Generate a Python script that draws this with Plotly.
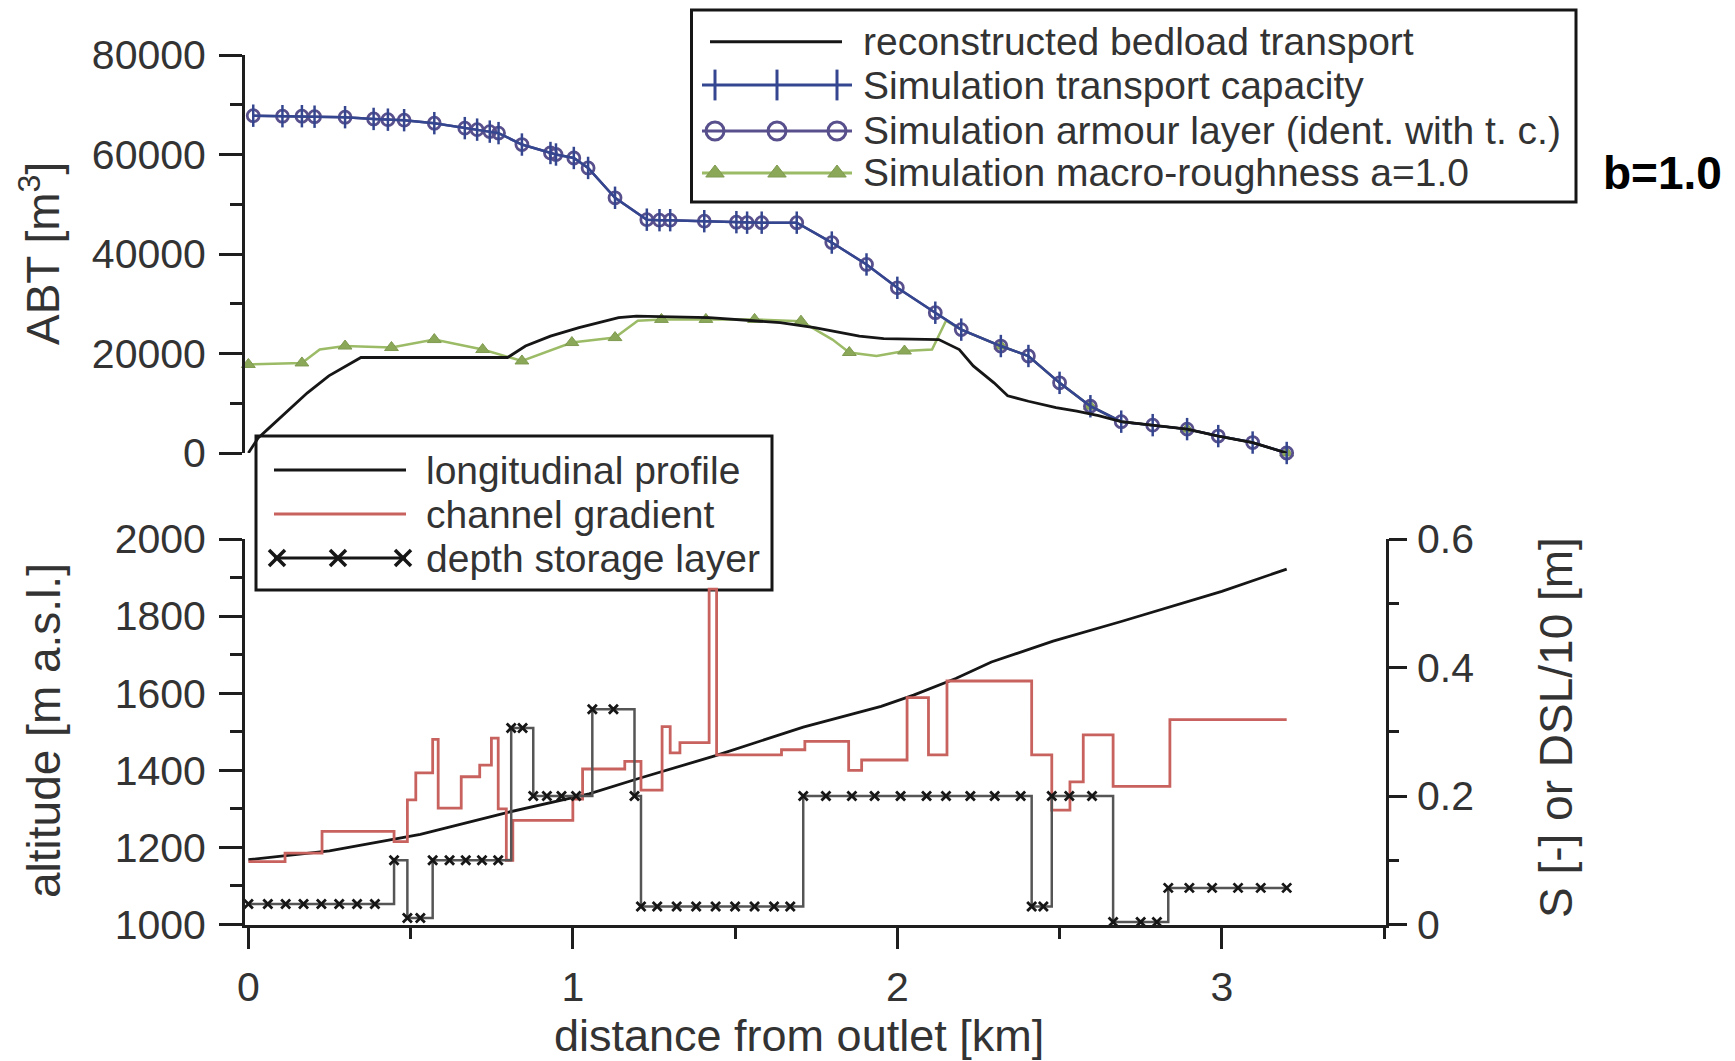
import plotly.graph_objects as go

W, H = 1735, 1061

# ---------------- data ----------------
# upper panel: accumulated bedload transport ABT [m3] vs distance from outlet [km]
km_capacity = [0.015, 0.105, 0.165, 0.204, 0.298, 0.386, 0.430, 0.480, 0.573, 0.667,
               0.705, 0.744, 0.771, 0.843, 0.931, 0.948, 1.003, 1.047, 1.130, 1.228,
               1.267, 1.300, 1.405, 1.504, 1.537, 1.582, 1.690, 1.798, 1.905, 2.000,
               2.117, 2.197, 2.319, 2.404, 2.500, 2.595, 2.690, 2.787, 2.893, 2.989,
               3.095, 3.200]
abt_capacity = [67800, 67700, 67700, 67600, 67500, 67150, 67000, 66900, 66300, 65300,
                65000, 64600, 64300, 62000, 60300, 60000, 59300, 57300, 51300, 46900,
                46800, 46800, 46600, 46400, 46300, 46300, 46300, 42300, 37900, 33200,
                28200, 24800, 21500, 19500, 14100, 9400, 6300, 5600, 4800, 3400,
                2100, 0]

km_roughness = [0.000, 0.165, 0.220, 0.298, 0.441, 0.573, 0.722, 0.843, 0.997, 1.130,
                1.200, 1.273, 1.410, 1.560, 1.703, 1.800, 1.852, 1.936, 2.022, 2.107,
                2.150, 2.197, 2.319, 2.404, 2.500, 2.595, 2.690, 2.787, 2.893, 2.989,
                3.095, 3.200]
abt_roughness = [17800, 18100, 20800, 21500, 21200, 22800, 20800, 18500, 22200, 23200,
                 26600, 26850, 26850, 26850, 26500, 22800, 20200, 19500, 20500, 20800,
                 26600, 24800, 21500, 19500, 14100, 9400, 6300, 5600, 4800, 3400,
                 2100, 0]
# points of the macro-roughness run that carry a symbol
roughness_symbols = [0, 1, 3, 4, 5, 6, 7, 8, 9, 11, 12, 13, 14, 16, 18, 22, 25, 28, 31]

km_bedload = [0.000, 0.030, 0.060, 0.182, 0.248, 0.347, 0.799, 0.854, 0.931, 1.019,
              1.141, 1.196, 1.420, 1.639, 1.745, 1.883, 1.958, 2.128, 2.191, 2.234,
              2.298, 2.340, 2.404, 2.489, 2.553, 2.620, 2.690, 2.787, 2.893, 2.989,
              3.095, 3.200]
abt_bedload = [0, 3000, 4800, 12100, 15500, 19200, 19200, 21500, 23500, 25200,
               27200, 27500, 27200, 26200, 25200, 23500, 23000, 22800, 20800, 17500,
               14100, 11500, 10400, 9100, 8400, 7500, 6300, 5600, 4800, 3400,
               2100, 0]

# lower panel: longitudinal profile [m a.s.l.]
km_profile = [0.00, 0.25, 0.53, 0.80, 1.05, 1.20, 1.44, 1.71, 1.95, 2.05,
              2.18, 2.29, 2.48, 2.69, 3.00, 3.20]
alt_profile = [1168, 1191, 1234, 1291, 1339, 1378, 1438, 1512, 1566, 1595,
               1638, 1681, 1735, 1786, 1864, 1922]

# channel gradient S [-], piecewise constant reaches
km_gradient = [0.000, 0.113, 0.227, 0.449, 0.490, 0.516, 0.568, 0.585, 0.656, 0.713,
               0.749, 0.770, 0.795, 0.815, 1.000, 1.030, 1.160, 1.210, 1.275, 1.300,
               1.330, 1.420, 1.443, 1.643, 1.715, 1.850, 1.890, 2.030, 2.096, 2.153,
               2.414, 2.476, 2.532, 2.573, 2.665, 2.840, 3.200]
gradient = [0.098, 0.111, 0.145, 0.129, 0.194, 0.236, 0.288, 0.181, 0.230, 0.248,
            0.290, 0.180, 0.100, 0.162, 0.195, 0.242, 0.254, 0.209, 0.308, 0.267,
            0.283, 0.522, 0.264, 0.272, 0.285, 0.240, 0.256, 0.353, 0.264, 0.379,
            0.264, 0.178, 0.222, 0.295, 0.215, 0.319, 0.319]

# depth of the storage layer DSL [m] (plotted as DSL/10)
km_dsl = [0.000, 0.060, 0.115, 0.170, 0.225, 0.280, 0.335, 0.390, 0.449, 0.490,
          0.530, 0.568, 0.620, 0.670, 0.720, 0.770, 0.810, 0.845, 0.878, 0.920,
          0.965, 1.010, 1.060, 1.125, 1.190, 1.210, 1.260, 1.320, 1.380, 1.440,
          1.500, 1.560, 1.620, 1.670, 1.710, 1.780, 1.860, 1.930, 2.010, 2.090,
          2.150, 2.225, 2.300, 2.380, 2.414, 2.450, 2.476, 2.530, 2.600, 2.665,
          2.750, 2.800, 2.835, 2.900, 2.970, 3.050, 3.120, 3.200]
dsl_m = [0.32, 0.32, 0.32, 0.32, 0.32, 0.32, 0.32, 0.32, 1.00, 0.10,
         0.10, 1.00, 1.00, 1.00, 1.00, 1.00, 3.06, 3.06, 2.00, 2.00,
         2.00, 2.00, 3.35, 3.35, 2.00, 0.28, 0.28, 0.28, 0.28, 0.28,
         0.28, 0.28, 0.28, 0.28, 2.00, 2.00, 2.00, 2.00, 2.00, 2.00,
         2.00, 2.00, 2.00, 2.00, 0.28, 0.28, 2.00, 2.00, 2.00, 0.04,
         0.04, 0.04, 0.57, 0.57, 0.57, 0.57, 0.57, 0.57]

x_ticks = [0, 1, 2, 3]
x_minor = [0.5, 1.5, 2.5, 3.5]
abt_ticks = [0, 20000, 40000, 60000, 80000]
abt_labels = ["0", "20000", "40000", "60000", "80000"]
abt_minor = [10000, 30000, 50000, 70000]
alt_ticks = [1000, 1200, 1400, 1600, 1800, 2000]
alt_minor = [1100, 1300, 1500, 1700, 1900]
s_ticks = [0, 0.2, 0.4, 0.6]
s_labels = ["0", "0.2", "0.4", "0.6"]
s_minor = [0.1, 0.3, 0.5]

# ---------------- styling ----------------
FONT = "Liberation Sans, Arial, sans-serif"
TXT = "#333333"
AXC = "#1e1e1e"
BLACK = "#161616"
BLUE = "#34468f"
PURPLE = "#58508c"
GREEN = "#9cbb66"
GREEN_M = "#8aa858"
RED = "#c8625e"
DSL_LINE = "#555555"

# plot frame in pixels
PX_L, PX_R = 244.8, 1386.0
TOP_T, TOP_B = 55.0, 453.0
BOT_T, BOT_B = 539.0, 924.5
X_RANGE = [-0.011, 3.506]


def fx(px):
    return px / W


def fy(py):
    return 1 - py / H


fig = go.Figure()

# ----- upper panel -----
fig.add_trace(go.Scatter(
    x=km_roughness, y=abt_roughness, xaxis="x2", yaxis="y2", mode="lines+markers",
    line=dict(color=GREEN, width=2.5),
    marker=dict(symbol="triangle-up", size=12, color=GREEN_M,
                line=dict(color="#7f9a50", width=1)),
    selectedpoints=roughness_symbols,
    selected=dict(marker=dict(opacity=1)),
    unselected=dict(marker=dict(opacity=0)),
    cliponaxis=False, showlegend=False))
fig.add_trace(go.Scatter(
    x=km_capacity, y=abt_capacity, xaxis="x2", yaxis="y2", mode="lines+markers",
    line=dict(color=PURPLE, width=2.5),
    marker=dict(symbol="circle-open", size=12, color=PURPLE, line=dict(width=2.8)),
    cliponaxis=False, showlegend=False))
fig.add_trace(go.Scatter(
    x=km_capacity, y=abt_capacity, xaxis="x2", yaxis="y2", mode="lines+markers",
    line=dict(color=BLUE, width=2.5),
    marker=dict(symbol="line-ns", size=16, color=BLUE, line=dict(width=2.5, color=BLUE)),
    cliponaxis=False, showlegend=False))
fig.add_trace(go.Scatter(
    x=km_bedload, y=abt_bedload, xaxis="x2", yaxis="y2", mode="lines",
    line=dict(color=BLACK, width=2.8), showlegend=False))

# ----- lower panel -----
fig.add_trace(go.Scatter(
    x=km_gradient, y=gradient, xaxis="x", yaxis="y3", mode="lines",
    line=dict(color=RED, width=2.8, shape="hv"), showlegend=False))
fig.add_trace(go.Scatter(
    x=km_dsl, y=[d / 10 for d in dsl_m], xaxis="x", yaxis="y3", mode="lines+markers",
    line=dict(color=DSL_LINE, width=2.5, shape="hv"),
    marker=dict(symbol="x-thin", size=9, color=BLACK, line=dict(width=2.8, color=BLACK)),
    cliponaxis=False, showlegend=False))
fig.add_trace(go.Scatter(
    x=km_profile, y=alt_profile, xaxis="x", yaxis="y", mode="lines",
    line=dict(color=BLACK, width=2.8), showlegend=False))

# ----- legend samples (pixel coordinates on a full-page overlay) -----
LEG_TOP_X = [702, 777, 852]
LEG_TOP_MK = [715, 777, 837]
LEG_BOT_X = [274, 340, 406]
LEG_BOT_MK = [277, 338, 403]
legend_rows_top = [41.7, 85, 131, 173]
legend_rows_bot = [470, 514, 558]

def overlay(x, y, **kw):
    fig.add_trace(go.Scatter(x=x, y=y, xaxis="x4", yaxis="y4", cliponaxis=False,
                             showlegend=False, hoverinfo="skip", **kw))

overlay([710, 842], [legend_rows_top[0]] * 2, mode="lines", line=dict(color=BLACK, width=3))
overlay([LEG_TOP_X[0], LEG_TOP_X[-1]], [legend_rows_top[1]] * 2, mode="lines",
        line=dict(color=BLUE, width=3))
overlay(LEG_TOP_MK, [legend_rows_top[1]] * 3, mode="markers",
        marker=dict(symbol="line-ns", size=22, color=BLUE, line=dict(width=3, color=BLUE)))
overlay([LEG_TOP_X[0], LEG_TOP_X[-1]], [legend_rows_top[2]] * 2, mode="lines",
        line=dict(color=PURPLE, width=3))
overlay(LEG_TOP_MK, [legend_rows_top[2]] * 3, mode="markers",
        marker=dict(symbol="circle-open", size=18, color=PURPLE, line=dict(width=3)))
overlay([LEG_TOP_X[0], LEG_TOP_X[-1]], [legend_rows_top[3]] * 2, mode="lines",
        line=dict(color=GREEN, width=3))
overlay(LEG_TOP_MK, [legend_rows_top[3]] * 3, mode="markers",
        marker=dict(symbol="triangle-up", size=16, color=GREEN_M,
                    line=dict(color="#7f9a50", width=1)))
overlay([LEG_BOT_X[0], LEG_BOT_X[-1]], [legend_rows_bot[0]] * 2, mode="lines",
        line=dict(color=BLACK, width=3))
overlay([LEG_BOT_X[0], LEG_BOT_X[-1]], [legend_rows_bot[1]] * 2, mode="lines",
        line=dict(color=RED, width=3))
overlay([LEG_BOT_X[0], LEG_BOT_X[-1]], [legend_rows_bot[2]] * 2, mode="lines",
        line=dict(color=BLACK, width=3))
overlay(LEG_BOT_MK, [legend_rows_bot[2]] * 3, mode="markers",
        marker=dict(symbol="x-thin", size=16, color=BLACK, line=dict(width=3.5, color=BLACK)))

legend_top_text = ["reconstructed bedload transport",
                   "Simulation transport capacity",
                   "Simulation armour layer (ident. with t. c.)",
                   "Simulation macro-roughness a=1.0"]
legend_bot_text = ["longitudinal profile", "channel gradient", "depth storage layer"]

annotations = []
for t, yy in zip(legend_top_text, legend_rows_top):
    annotations.append(dict(text=t, x=fx(861), y=fy(yy), xref="paper", yref="paper",
                            xanchor="left", yanchor="middle", showarrow=False,
                            font=dict(family=FONT, size=39, color=TXT)))
for t, yy in zip(legend_bot_text, legend_rows_bot):
    annotations.append(dict(text=t, x=fx(424), y=fy(yy), xref="paper", yref="paper",
                            xanchor="left", yanchor="middle", showarrow=False,
                            font=dict(family=FONT, size=39, color=TXT)))

# axis titles
title_font = dict(family=FONT, size=45, color=TXT)
annotations += [
    dict(text="ABT [m<sup>3</sup>]", x=fx(40), y=fy(254), textangle=-90,
         font=dict(family=FONT, size=46, color=TXT)),
    dict(text="altitude [m a.s.l.]", x=fx(44), y=fy(731), textangle=-90,
         font=dict(family=FONT, size=46, color=TXT)),
    dict(text="S [-] or DSL/10 [m]", x=fx(1556), y=fy(728), textangle=-90,
         font=dict(family=FONT, size=46, color=TXT)),
    dict(text="distance from outlet [km]", x=fx(799), y=fy(1035), font=title_font),
    dict(text="<b>b=1.0</b>", x=fx(1662), y=fy(173),
         font=dict(family=FONT, size=46, color="#000000")),
]
for a in annotations[-5:]:
    a.update(xref="paper", yref="paper", xanchor="center", yanchor="middle", showarrow=False)

shapes = [
    dict(type="rect", xref="paper", yref="paper", x0=fx(691.5), x1=fx(1576),
         y0=fy(202), y1=fy(10), line=dict(color=BLACK, width=3), fillcolor="white",
         layer="below"),
    dict(type="rect", xref="paper", yref="paper", x0=fx(256), x1=fx(772),
         y0=fy(590), y1=fy(436), line=dict(color=BLACK, width=3), fillcolor="white",
         layer="below"),
]

tick_font = dict(family=FONT, size=41, color=TXT)
common = dict(showgrid=False, zeroline=False, showline=True, linecolor=AXC, linewidth=2.5,
              ticks="outside", tickcolor=AXC, tickwidth=2.5, tickfont=tick_font)

fig.update_layout(
    width=W, height=H,
    margin=dict(l=0, r=0, t=0, b=0, pad=0, autoexpand=False),
    paper_bgcolor="white", plot_bgcolor="rgba(0,0,0,0)",
    showlegend=False, annotations=annotations, shapes=shapes,
    xaxis=dict(domain=[fx(PX_L), fx(PX_R)], range=X_RANGE, anchor="y",
               tickvals=x_ticks, ticklen=22, ticklabelstandoff=3,
               minor=dict(tickvals=x_minor, ticklen=12, tickwidth=2.5, tickcolor=AXC,
                          ticks="outside"), **common),
    yaxis=dict(domain=[fy(BOT_B), fy(BOT_T)], range=[1000, 2000], anchor="x",
               tickvals=alt_ticks, ticklen=23, ticklabelstandoff=5,
               minor=dict(tickvals=alt_minor, ticklen=12, tickwidth=2.5, tickcolor=AXC,
                          ticks="outside"), **common),
    yaxis3=dict(range=[0, 0.6], overlaying="y", side="right", anchor="x",
                tickvals=s_ticks, ticktext=s_labels, ticklen=18, ticklabelstandoff=2,
                minor=dict(tickvals=s_minor, ticklen=10, tickwidth=2.5, tickcolor=AXC,
                           ticks="outside"), **common),
    xaxis2=dict(domain=[fx(PX_L), fx(PX_R)], range=X_RANGE, anchor="y2", visible=False),
    yaxis2=dict(domain=[fy(TOP_B), fy(TOP_T)], range=[0, 80000], anchor="x2",
                tickvals=abt_ticks, ticktext=abt_labels, ticklen=23, ticklabelstandoff=5,
                minor=dict(tickvals=abt_minor, ticklen=12, tickwidth=2.5, tickcolor=AXC,
                           ticks="outside"), **common),
    xaxis4=dict(domain=[0, 1], range=[0, W], anchor="y4", visible=False, fixedrange=True),
    yaxis4=dict(domain=[0, 1], range=[H, 0], anchor="x4", visible=False, fixedrange=True),
)

fig.write_html("out.html")
